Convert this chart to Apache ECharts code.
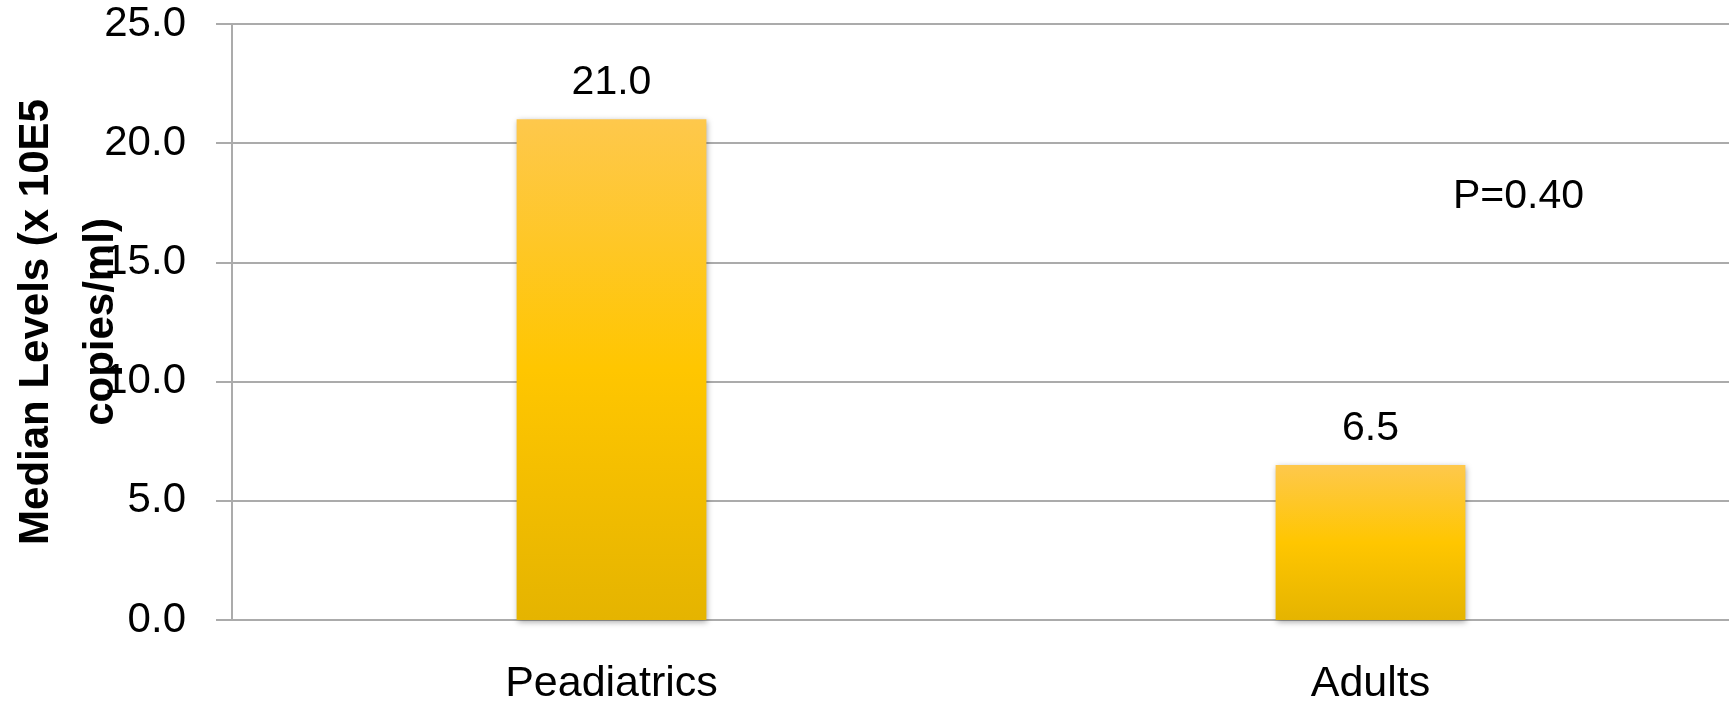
<!DOCTYPE html>
<html>
<head>
<meta charset="utf-8">
<script src="https://cdn.jsdelivr.net/npm/echarts@6/dist/echarts.min.js"></script>
<style>
html,body{margin:0;padding:0;background:#fff;}
#chart{width:1729px;height:704px;}
</style>
</head>
<body>
<div id="chart"></div>
<script>
const categories = ['Peadiatrics', 'Adults'];
const medianLevels = [21.0, 6.5];
const yTicks = { min: 0, max: 25, interval: 5 };
const yAxisTitle = 'Median Levels (x 10E5\ncopies/ml)';
const pValueText = 'P=0.40';

const chart = echarts.init(document.getElementById('chart'), null, { renderer: 'canvas' });
const font = '"Liberation Sans", Arial, sans-serif';
const option = {
  backgroundColor: '#ffffff',
  animation: false,
  grid: { left: 232, right: -21, top: 24, bottom: 84, containLabel: false, outerBoundsMode: 'none' },
  xAxis: {
    type: 'category',
    data: categories,
    axisLine: { show: true, lineStyle: { color: '#ABABAB', width: 2 } },
    axisTick: { show: false },
    axisLabel: { color: '#000', fontFamily: font, fontSize: 43, margin: 43 }
  },
  yAxis: {
    type: 'value',
    min: yTicks.min, max: yTicks.max, interval: yTicks.interval,
    name: yAxisTitle,
    nameLocation: 'middle',
    nameRotate: 90,
    nameGap: 98,
    nameMoveOverlap: false,
    nameTextStyle: { color: '#000', fontFamily: font, fontSize: 42, fontWeight: 'bold', lineHeight: 65, align: 'center' },
    axisLine: { show: true, lineStyle: { color: '#ABABAB', width: 2 } },
    axisTick: { show: true, length: 16, lineStyle: { color: '#ABABAB', width: 2 } },
    splitLine: { show: true, lineStyle: { color: '#ABABAB', width: 2 } },
    axisLabel: { color: '#000', fontFamily: font, fontSize: 42, margin: 46, formatter: v => v.toFixed(1) }
  },
  series: [{
    type: 'bar',
    data: medianLevels,
    barWidth: '25%',
    itemStyle: {
      color: new echarts.graphic.LinearGradient(0, 0, 0, 1, [
        { offset: 0, color: '#FEC84C' },
        { offset: 0.5, color: '#FFC600' },
        { offset: 1, color: '#E5B400' }
      ]),
      shadowColor: 'rgba(0,0,0,0.35)',
      shadowBlur: 6,
      shadowOffsetX: 1,
      shadowOffsetY: 2
    },
    label: {
      show: true, position: 'top', distance: 16,
      color: '#000', fontFamily: font, fontSize: 41,
      formatter: p => p.value.toFixed(1)
    }
  }],
  graphic: [{
    type: 'text',
    left: 1453,
    top: 176,
    style: { text: pValueText, fill: '#000', font: '41px ' + font }
  }]
};
chart.setOption(option);
</script>
</body>
</html>
